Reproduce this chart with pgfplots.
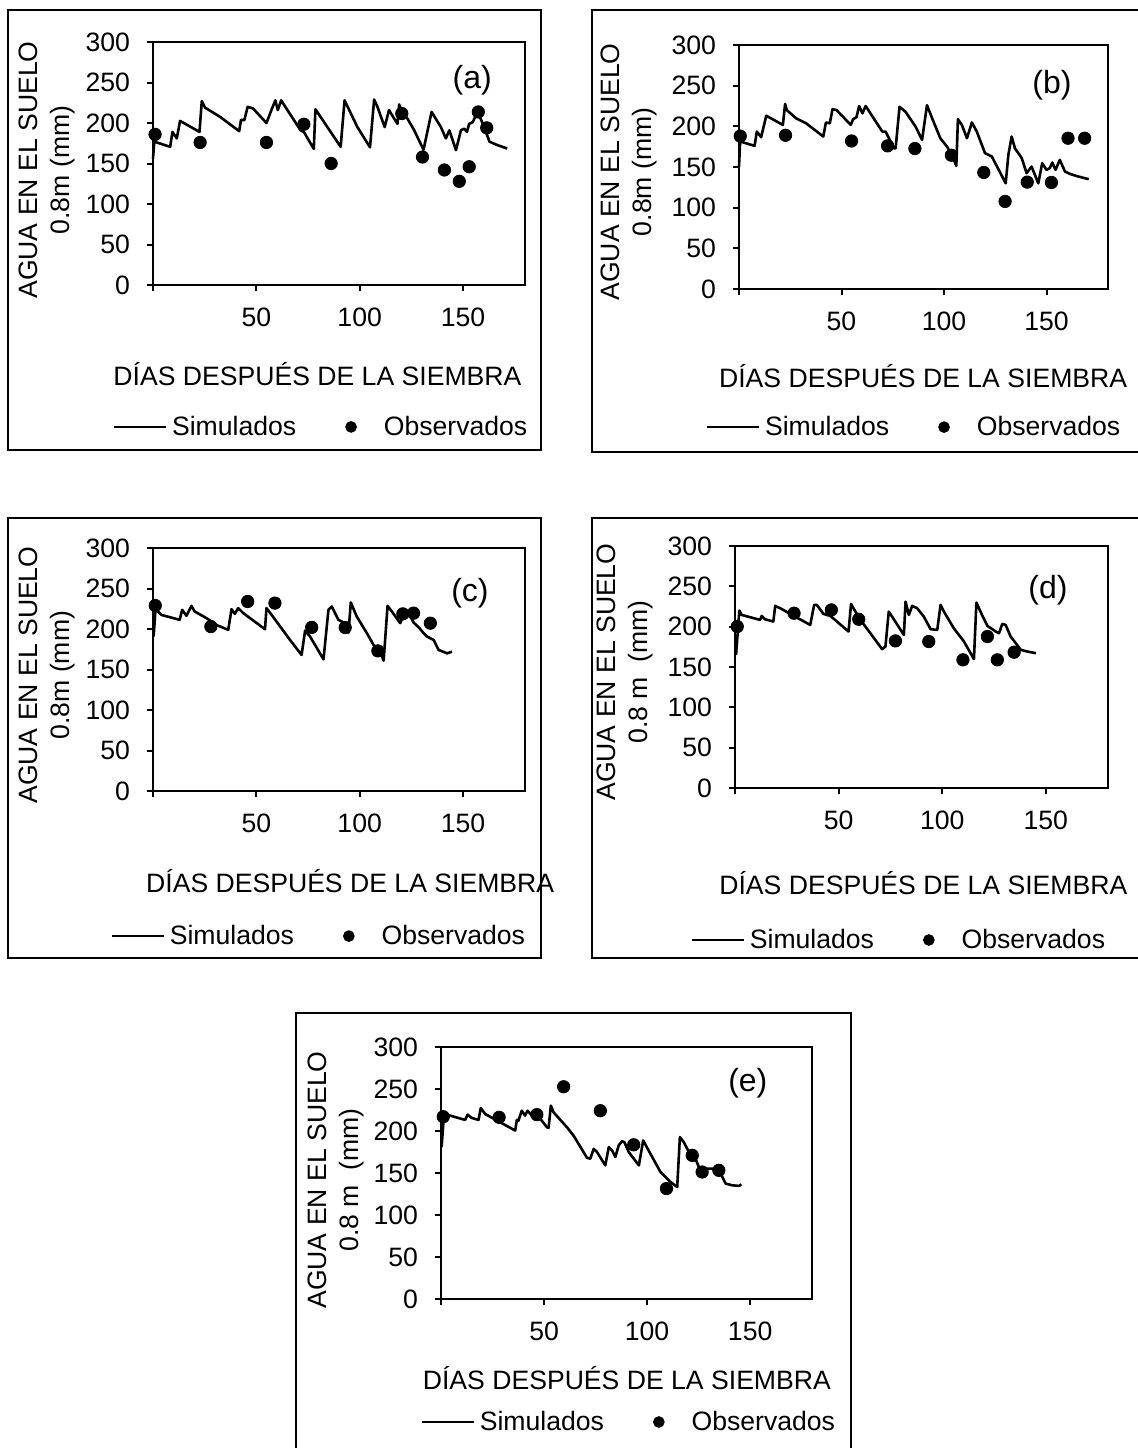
\documentclass[border=0pt]{standalone}
\usepackage{fontspec}
\setmainfont{Liberation Sans}
\usepackage{pgfplots}
\pgfplotsset{compat=1.18}

\newcommand{\lbl}{\fontsize{13.3}{16}\selectfont}
\tikzset{tag/.style={font=\fontsize{16}{19}\selectfont}}

\pgfplotsset{
  panel/.style={
    scale only axis, anchor=south west, clip=false,
    xmin=0, xmax=180, ymin=0, ymax=300,
    xtick={0,50,100,150}, xticklabels={,50,100,150},
    ytick={0,50,...,300},
    tick align=outside, tick pos=left,
    major tick length=3pt,
    axis line style={line width=1pt},
    major tick style={line width=1pt, black},
    tick label style={font=\lbl},
    yticklabel style={xshift=-5pt},
    xticklabel style={yshift=-5pt},
    /pgf/number format/assume math mode=true,
    xlabel={DÍAS DESPUÉS DE LA SIEMBRA},
    xlabel style={font=\lbl, anchor=center},
    ylabel style={font=\lbl, align=center, anchor=center},
    legend columns=2,
    legend style={draw=none, fill=none, inner sep=0pt, anchor=west, font=\lbl,
      nodes={inner sep=0pt},
      /tikz/column 1/.style={column sep=2.5pt},
      /tikz/column 2/.style={column sep=24.5pt},
      /tikz/column 3/.style={column sep=13.5pt}},
  },
  sim/.style={black, line width=1.3pt, mark=none, line join=round,
    legend image code/.code={\draw[line width=1.3pt] (0pt,0pt) -- (26pt,0pt);}},
  obs/.style={black, only marks, mark=*, mark size=3.1pt,
    legend image code/.code={\fill[black] (0pt,0pt) circle (2.7pt);}},
}

\begin{document}
\begin{tikzpicture}
\useasboundingbox (0pt,0pt) rectangle (568.5pt,-724pt);

% ---------------- (a)
\begin{axis}[panel, at={(76.5pt,-142.5pt)}, width=186pt, height=121.5pt,
  ylabel={AGUA EN EL SUELO\\0.8m (mm)},
  ylabel style={at={(axis description cs:-0.285,0.473)}},
  xlabel style={at={(axis description cs:0.442,-0.366)}},
  legend style={at={(axis description cs:-0.110,-0.584)}}]
\addplot[sim] coordinates {(0,156) (0.6,177) (8.3,170.6) (9.4,189) (11.5,181) (13.1,202.6) (22.5,189) (23.6,227) (25.2,219) (32.5,207.5) (41.7,190) (42.6,204) (44.2,203.5) (45.8,220) (48.4,218) (54.9,200) (57.3,216) (59.2,228) (60.4,216) (62,228) (71.4,191) (73,189) (77.8,168) (78.6,217) (90.8,170.6) (92.7,228) (98.9,195) (105,170) (107,229) (108.6,220) (112.1,195) (114.2,216) (116.2,207.5) (118.3,199) (119.1,223) (120.7,211.7) (123.1,205.5) (126.4,191) (130.9,167) (134.8,213.7) (139.3,195) (141.7,181) (143.4,191) (146.6,166.5) (149,191) (150.6,193) (151.9,189) (153,199) (154.7,201) (155.5,205.5) (157.4,211.7) (160.3,195) (162.8,177) (166.8,172.6) (171.4,168.5)};
\addlegendentry{Simulados}
\addplot[obs] coordinates {(1,186) (22.8,176) (54.9,176) (73,198.5) (86.2,150) (120.4,211.7) (130.4,158) (141,142) (148.2,128) (153,146) (157.4,213.7) (161.5,194)};
\addlegendentry{Observados}
\node[tag] at (rel axis cs:0.858,0.844) {(a)};
\end{axis}

% ---------------- (b)
\begin{axis}[panel, at={(369.5pt,-144.5pt)}, width=184.5pt, height=122pt,
  ylabel={AGUA EN EL SUELO\\0.8m (mm)},
  ylabel style={at={(axis description cs:-0.297,0.48)}},
  xlabel style={at={(axis description cs:0.499,-0.357)}},
  legend style={at={(axis description cs:-0.092,-0.566)}}]
\addplot[sim] coordinates {(0,150.6) (0.6,183.4) (1.1,181) (7.6,176) (8.7,193.6) (10.8,186.7) (13.3,213) (21.4,201.8) (22.5,227.6) (23.3,220) (27.8,210) (32.7,203.8) (41.1,187.5) (42.4,204.7) (44.3,203.8) (45.6,221) (47.6,220) (54.5,201.8) (55.7,208.8) (57.3,211.2) (58.6,225) (60.2,216) (61.8,225) (66.7,206) (69.9,193.6) (71.5,193.6) (75.6,173) (76.4,173) (78.3,224) (81.2,218) (86.1,199.8) (89.3,183.4) (91.7,226) (94.2,210) (98.2,185.4) (101.5,175) (104.2,163) (106,151.5) (106.8,208.8) (108.7,201.8) (111.2,185.4) (113.6,204.7) (116,193.6) (120,167) (123.3,163) (130.1,130) (131.4,165) (133,187.5) (134.6,173) (137.9,161) (140.3,142.4) (142.7,150.6) (146,130) (147.9,154.7) (150,146.5) (151.6,148.6) (152.8,155.5) (154.4,146.5) (156.5,158.8) (159,144.5) (161.3,141.6) (165.4,138.4) (170.6,135)};
\addlegendentry{Simulados}
\addplot[obs] coordinates {(0.6,188) (22.7,189) (54.9,182) (72.5,176) (85.8,172.7) (103.6,164.5) (119.4,143.3) (129.8,107.7) (140.6,131.4) (152.4,131) (160.5,185.4) (168.6,185.4)};
\addlegendentry{Observados}
\node[tag] at (rel axis cs:0.848,0.836) {(b)};
\end{axis}

% ---------------- (c)
\begin{axis}[panel, at={(76.5pt,-395.5pt)}, width=186pt, height=121.5pt,
  ylabel={AGUA EN EL SUELO\\0.8m (mm)},
  ylabel style={at={(axis description cs:-0.285,0.477)}},
  xlabel style={at={(axis description cs:0.530,-0.370)}},
  legend style={at={(axis description cs:-0.116,-0.597)}}]
\addplot[sim] coordinates {(0.3,190.7) (1.3,227.8) (2.4,221.6) (4,217.5) (12.9,211.3) (14.1,223.7) (16.2,216.3) (18.6,228.6) (20.2,221.6) (25.9,213.4) (30.7,205) (36.4,199) (38,224.5) (39.6,218.7) (41.2,225.8) (43.7,219.6) (54.2,199.7) (54.9,225.8) (57.4,217.5) (66.3,186.5) (71.9,168) (73.6,198) (76,190.7) (82.5,162.6) (84.9,223.7) (86.5,227.8) (89.7,211.3) (91.4,209.2) (93,199) (94.6,195.6) (95.7,232.8) (98.6,215.4) (103.5,194.8) (106.7,180.4) (109.9,172) (111.6,161) (113.5,228.6) (115.6,221.6) (119.6,207.2) (121.3,217.5) (123.7,219.6) (126.1,208) (128.5,202.2) (131,194.8) (132.6,190.7) (135.8,186.5) (138.2,174.2) (142.3,170) (144.7,172)};
\addlegendentry{Simulados}
\addplot[obs] coordinates {(1.1,229) (28,203) (45.8,234) (59,232) (76.8,202) (93,201.8) (108.8,173) (120.9,218.7) (126.1,219.6) (134.2,207.2)};
\addlegendentry{Observados}
\node[tag] at (rel axis cs:0.852,0.815) {(c)};
\end{axis}

% ---------------- (d)
\begin{axis}[panel, at={(367.5pt,-394pt)}, width=186.5pt, height=121pt,
  ylabel={AGUA EN EL SUELO\\0.8 m\ \ (mm)},
  ylabel style={at={(axis description cs:-0.294,0.479)}},
  xlabel style={at={(axis description cs:0.505,-0.393)}},
  legend style={at={(axis description cs:-0.121,-0.628)}}]
\addplot[sim] coordinates {(0.5,165) (2.1,220) (3.2,214.6) (12.1,208.4) (12.9,213.4) (14.5,209.2) (18.5,206.4) (19.4,225.8) (21.8,222.9) (29,212.5) (36.3,202.2) (38.2,227) (39.5,227) (42.7,215.8) (46,213.4) (54.8,194) (56,228.2) (58.1,218.7) (60.5,208.4) (65.3,192) (71,172.1) (72.6,175.4) (74.2,218.7) (75.8,212.5) (81.5,189.8) (82.3,231) (83.9,214.6) (85.5,225.8) (87.9,222.9) (91.1,212.5) (94.4,196.9) (97.6,196) (99.2,227) (100.8,218.7) (105.6,198) (110.5,181.6) (113.7,167.1) (115.3,159.7) (116.5,229.9) (119.4,213.4) (121.8,201) (124.2,196.9) (125.8,194) (127.4,191.9) (129,203.5) (130.6,202.2) (133,187.8) (135.5,179.5) (137.9,171.3) (141.1,169.2) (145.2,167.1)};
\addlegendentry{Simulados}
\addplot[obs] coordinates {(1.1,200.2) (28.5,216.7) (46.5,220.8) (59.7,209.2) (77.4,182.4) (93.5,181.6) (110,158.9) (121.8,187.8) (126.6,158.9) (134.7,168.4)};
\addlegendentry{Observados}
\node[tag] at (rel axis cs:0.839,0.818) {(d)};
\end{axis}

% ---------------- (e)
\begin{axis}[panel, at={(220.5pt,-649.5pt)}, width=185.5pt, height=126pt,
  ylabel={AGUA EN EL SUELO\\0.8 m\ \ (mm)},
  ylabel style={at={(axis description cs:-0.283,0.472)}},
  xlabel style={at={(axis description cs:0.501,-0.313)}},
  legend style={at={(axis description cs:-0.057,-0.488)}}]
\addplot[sim] coordinates {(0.3,180.8) (1.5,222.3) (2.8,219.5) (11.7,213.2) (12.9,219.5) (14.9,215.6) (18.2,213.2) (19.3,227.4) (21.4,220.3) (28.7,210.4) (36,200.6) (36.8,213.2) (37.6,212.4) (39.2,224.2) (40.8,218.3) (42,224.2) (44.1,218.3) (45.7,222.3) (51.4,204.5) (52.2,203.7) (53.3,230.2) (54.6,222.3) (61.1,204.5) (64.3,194.6) (70.8,168.2) (72.4,167) (74.1,178.8) (75.7,174.9) (79.7,159.1) (81.4,180.8) (83,176.9) (84.6,169) (86.2,182.8) (87.8,187.9) (89,186.7) (91.1,174.9) (96,159.1) (98.1,188.7) (101.6,172.9) (106.5,151.2) (111.3,139.4) (114.6,133.4) (115.9,192.7) (117.8,186.7) (120.3,174.9) (122.7,165) (123.5,167) (125.1,157.1) (127.6,155.2) (132.4,155.2) (135.7,149.2) (138.1,137.4) (141.3,135.4) (144.6,134.6) (145.7,136.6)};
\addlegendentry{Simulados}
\addplot[obs] coordinates {(1.1,217) (28.2,216.3) (46.5,219.5) (59.5,252.7) (77.3,224.2) (93.5,183.6) (109.4,131.5) (121.9,171) (126.7,151.2) (134.8,153.2)};
\addlegendentry{Observados}
\node[tag] at (rel axis cs:0.827,0.857) {(e)};
\end{axis}

% frames round the panels
\draw[line width=0.9pt] (4pt,-5pt) rectangle (270.5pt,-225pt);
\draw[line width=0.9pt] (296pt,-5pt) rectangle (572pt,-226pt);
\draw[line width=0.9pt] (4pt,-259pt) rectangle (270.5pt,-479pt);
\draw[line width=0.9pt] (296pt,-259pt) rectangle (572pt,-479pt);
\draw[line width=0.9pt] (148pt,-506.5pt) rectangle (425.5pt,-728pt);
\end{tikzpicture}
\end{document}
